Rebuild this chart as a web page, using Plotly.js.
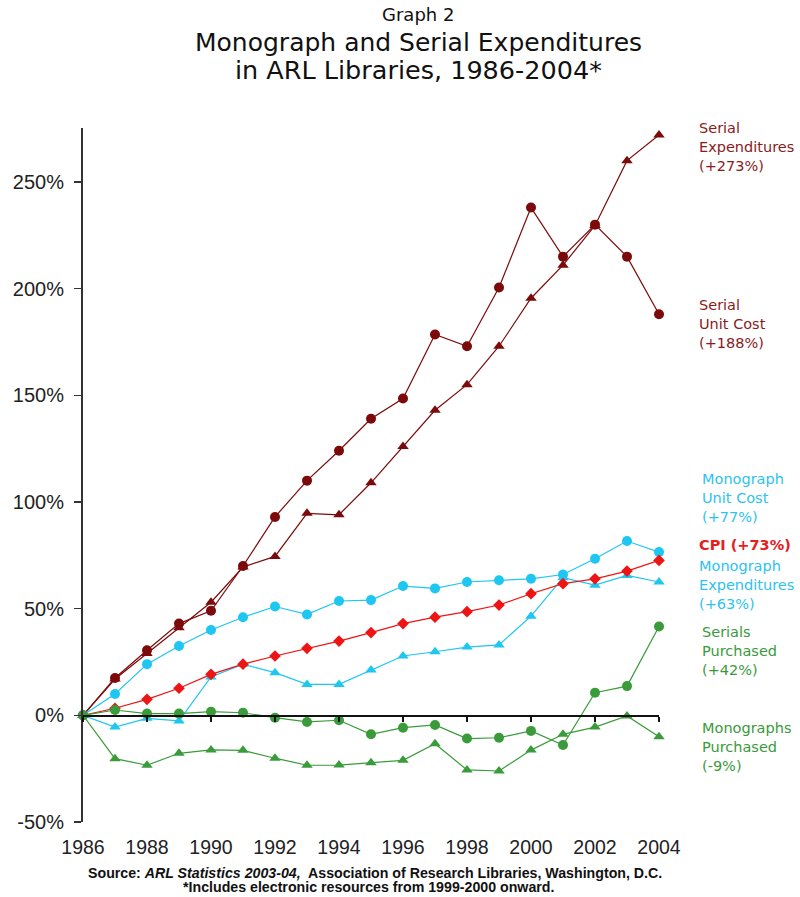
<!DOCTYPE html>
<html>
<head>
<meta charset="utf-8">
<script src="https://cdn.plot.ly/plotly-3.0.1.min.js"></script>
<style>html,body{margin:0;padding:0;background:#fff;}#chart{width:800px;height:897px;}</style>
</head>
<body>
<div id="chart"></div>
<script>
// ---- data (percent change since 1986) ----
const years = [1986,1987,1988,1989,1990,1991,1992,1993,1994,1995,1996,1997,1998,1999,2000,2001,2002,2003,2004];
const serialExpenditures = [0,17,29,41,53,69.5,74.5,94.7,94,109,126,143,155,173,195.5,211,229.6,260,272];
const serialUnitCost = [0,17.5,30.5,43,49,70,93,110,124,139,148.5,178.5,173,200.5,238,215,230,215,188];
const monographUnitCost = [0,10,24,32.5,40,46,51,47.3,53.6,54,60.6,59.5,62.5,63.3,64,66,73.4,81.7,76.5];
const cpiValues = [0,3.3,7.5,12.7,19.2,24,27.8,31.4,34.8,38.8,43,46,48.6,51.7,57,61.7,64,67.6,72.6];
const monographExpenditures = [0,-5.5,-1.4,-2.6,18,24,20,14.5,14.5,21.2,27.8,29.8,32,33,46.5,64.5,61,65.6,62.5];
const serialsPurchased = [0,2.5,0.8,0.8,1.7,1.2,-1.1,-3.1,-2.3,-8.9,-5.8,-4.5,-10.9,-10.5,-7.3,-13.9,10.6,13.7,41.6];
const monographsPurchased = [0,-20.3,-23.4,-17.8,-16.2,-16.4,-20.1,-23.4,-23.3,-22.2,-21.1,-13.3,-25.6,-26.1,-16.3,-8.9,-5.5,-0.3,-10];

const xTickVals = [1986,1988,1990,1992,1994,1996,1998,2000,2002,2004];
const yTickVals = [-50,0,50,100,150,200,250];
const yTickText = ['-50%','0%','50%','100%','150%','200%','250%'];

const seriesLabels = [
  {text:'Serial<br>Expenditures<br>(+273%)', color:'#8b1a1a', px:697, py:147, bold:false},
  {text:'Serial<br>Unit Cost<br>(+188%)', color:'#8b1a1a', px:697, py:324, bold:false},
  {text:'Monograph<br>Unit Cost<br>(+77%)', color:'#2ec2ef', px:700, py:498, bold:false},
  {text:'CPI (+73%)', color:'#e4201e', px:697, py:545, bold:true},
  {text:'Monograph<br>Expenditures<br>(+63%)', color:'#2ec2ef', px:697, py:585, bold:false},
  {text:'Serials<br>Purchased<br>(+42%)', color:'#3a9a3a', px:700, py:651, bold:false},
  {text:'Monographs<br>Purchased<br>(-9%)', color:'#3a9a3a', px:700, py:747, bold:false}
];

// ---- styling / layout ----
const W = 800, H = 897;
const M = {l:83, r:141, t:128, b:75};
const xRange = [1986, 2004];
const yRange = [-50, 275.3];
const pxX = p => (p - M.l) / (W - M.l - M.r);
const pxY = p => (H - M.b - p) / (H - M.t - M.b);

const DARKRED = '#7d0a0a', BLUE = '#1ec6f2', RED = '#ee1414', GREEN = '#3a9b3a';

function tr(y, color, symbol, size, name){
  return {x: years, y: y, type:'scatter', mode:'lines+markers', name:name,
    line:{color:color, width:1.2}, marker:{color:color, symbol:symbol, size:size},
    cliponaxis:false, hoverinfo:'skip', showlegend:false};
}

const data = [
  tr(serialExpenditures, DARKRED, 'triangle-up', 10, 'Serial Expenditures'),
  tr(serialUnitCost, DARKRED, 'circle', 10, 'Serial Unit Cost'),
  tr(monographUnitCost, BLUE, 'circle', 10, 'Monograph Unit Cost'),
  tr(monographExpenditures, BLUE, 'triangle-up', 10, 'Monograph Expenditures'),
  tr(cpiValues, RED, 'diamond', 9, 'CPI'),
  tr(monographsPurchased, GREEN, 'triangle-up', 10, 'Monographs Purchased'),
  tr(serialsPurchased, GREEN, 'circle', 10, 'Serials Purchased'),
  {x: years, y: cpiValues, xaxis:'x2', type:'scatter', mode:'none', hoverinfo:'skip', showlegend:false}
];

const annotations = [];
const titleLines = [
  {text:'Graph 2', size:18, py:14},
  {text:'Monograph and Serial Expenditures', size:25, py:43},
  {text:'in ARL Libraries, 1986-2004*', size:25.5, py:70}
];
titleLines.forEach(t => annotations.push({
  text:t.text, xref:'paper', yref:'paper', x:pxX(418), y:pxY(t.py), xanchor:'center', yanchor:'middle',
  showarrow:false, font:{family:'DejaVu Sans', size:t.size, color:'#111'}
}));
seriesLabels.forEach(s => annotations.push({
  text: s.bold ? '<b>'+s.text+'</b>' : s.text, xref:'paper', yref:'paper', x:pxX(s.px), y:pxY(s.py),
  xanchor:'left', yanchor:'middle', align:'left', showarrow:false,
  font:{family:'DejaVu Sans', size:14.5, color:s.color}
}));
annotations.push({
  text:'<b>Source: <i>ARL Statistics 2003-04,</i>  Association of Research Libraries, Washington, D.C.</b>',
  xref:'paper', yref:'paper', x:pxX(375), y:pxY(873), xanchor:'center', yanchor:'middle', showarrow:false,
  font:{family:'Liberation Sans', size:14.2, color:'#111'}
});
annotations.push({
  text:'<b>*Includes electronic resources from 1999-2000 onward.</b>',
  xref:'paper', yref:'paper', x:pxX(368), y:pxY(887), xanchor:'center', yanchor:'middle', showarrow:false,
  font:{family:'Liberation Sans', size:14.2, color:'#111'}
});

const layout = {
  width:W, height:H, margin:M, paper_bgcolor:'#fff', plot_bgcolor:'#fff', showlegend:false,
  font:{family:'Liberation Sans, Arial, sans-serif', color:'#222'},
  xaxis:{range:xRange, tickvals:xTickVals, ticks:'', showline:false, showgrid:false, zeroline:false,
    tickfont:{family:'Liberation Sans', size:19.5, color:'#222'}, ticklabelstandoff:11, fixedrange:true},
  xaxis2:{range:xRange, overlaying:'x', anchor:'free', position:(0 - yRange[0])/(yRange[1]-yRange[0]),
    side:'bottom', tickvals:xTickVals, ticks:'outside', ticklen:5, tickwidth:1.3, tickcolor:'#111',
    showticklabels:false, showline:true, linecolor:'#111', linewidth:1.5, showgrid:false, zeroline:false},
  yaxis:{range:yRange, tickvals:yTickVals, ticktext:yTickText, ticks:'outside', ticklen:7, tickwidth:1.5,
    tickcolor:'#333', showline:true, linecolor:'#333', linewidth:2, showgrid:false, zeroline:false,
    tickfont:{family:'Liberation Sans', size:20, color:'#222'}, ticklabelstandoff:6},
  annotations:annotations
};

Plotly.newPlot('chart', data, layout, {displayModeBar:false, staticPlot:true});
</script>
</body>
</html>
